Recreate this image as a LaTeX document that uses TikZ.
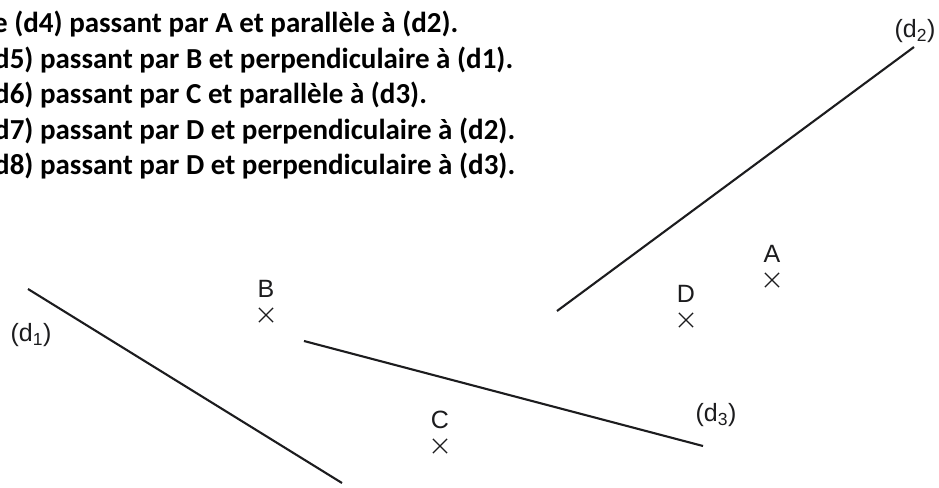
\documentclass[tikz,border=0pt]{standalone}
\usepackage{fontspec}
\setmainfont{Carlito}
\newfontfamily\handfont{Liberation Sans}
\usetikzlibrary{positioning,shapes.misc}
\definecolor{inkgray}{RGB}{28,28,30}

\begin{document}
\begin{tikzpicture}[x=1pt, y=-1pt,
    consigne/.style={anchor=base west, inner sep=0pt, font=\fontsize{29}{35}\selectfont\bfseries},
    droite/.style={draw=inkgray, line width=2.1pt},
    pointx/.style={cross out, draw=inkgray, line width=1.2pt, minimum size=13pt, inner sep=0pt},
    nomlbl/.style={inner sep=0pt, text=inkgray, font=\handfont\fontsize{25}{25}\selectfont}
  ]
  \useasboundingbox (0,0) rectangle (939,487);
  \clip (0,0) rectangle (939,487);
  \fill[white] (0,0) rectangle (939,487);

  % consignes (coupees a gauche)
  \node[consigne] (c4) at (-7,33) {e (d4) passant par A et parallèle à (d2).};
  \node[consigne] (c5) at (-6,68) {d5) passant par B et perpendiculaire à (d1).};
  \node[consigne] (c6) at (-6,103) {d6) passant par C et parallèle à (d3).};
  \node[consigne] (c7) at (-6,139) {d7) passant par D et perpendiculaire à (d2).};
  \node[consigne] (c8) at (-6,174) {d8) passant par D et perpendiculaire à (d3).};

  % droites
  \coordinate (d1a) at (28,289);
  \coordinate (d1b) at (342,483);
  \coordinate (d2a) at (557,311);
  \coordinate (d2b) at (914,47);
  \coordinate (d3a) at (304,341);
  \coordinate (d3b) at (703,446);
  \draw[droite] (d1a) -- (d1b);
  \draw[droite] (d2a) -- (d2b);
  \draw[droite] (d3a) -- (d3b);

  \node[nomlbl] (d1lbl) at (31,335) {(d\textsubscript{1})};
  \node[nomlbl] (d2lbl) at (915,31) {(d\textsubscript{2})};
  \node[nomlbl] (d3lbl) at (716,415) {(d\textsubscript{3})};

  % points
  \node[pointx] (A) at (772,280) {};
  \node[pointx] (B) at (266,315) {};
  \node[pointx] (C) at (440,446) {};
  \node[pointx] (D) at (686,320) {};
  \node[nomlbl, above=10pt of A] (Albl) {A};
  \node[nomlbl, above=10pt of B] (Blbl) {B};
  \node[nomlbl, above=10pt of C] (Clbl) {C};
  \node[nomlbl, above=10pt of D] (Dlbl) {D};
\end{tikzpicture}
\end{document}
